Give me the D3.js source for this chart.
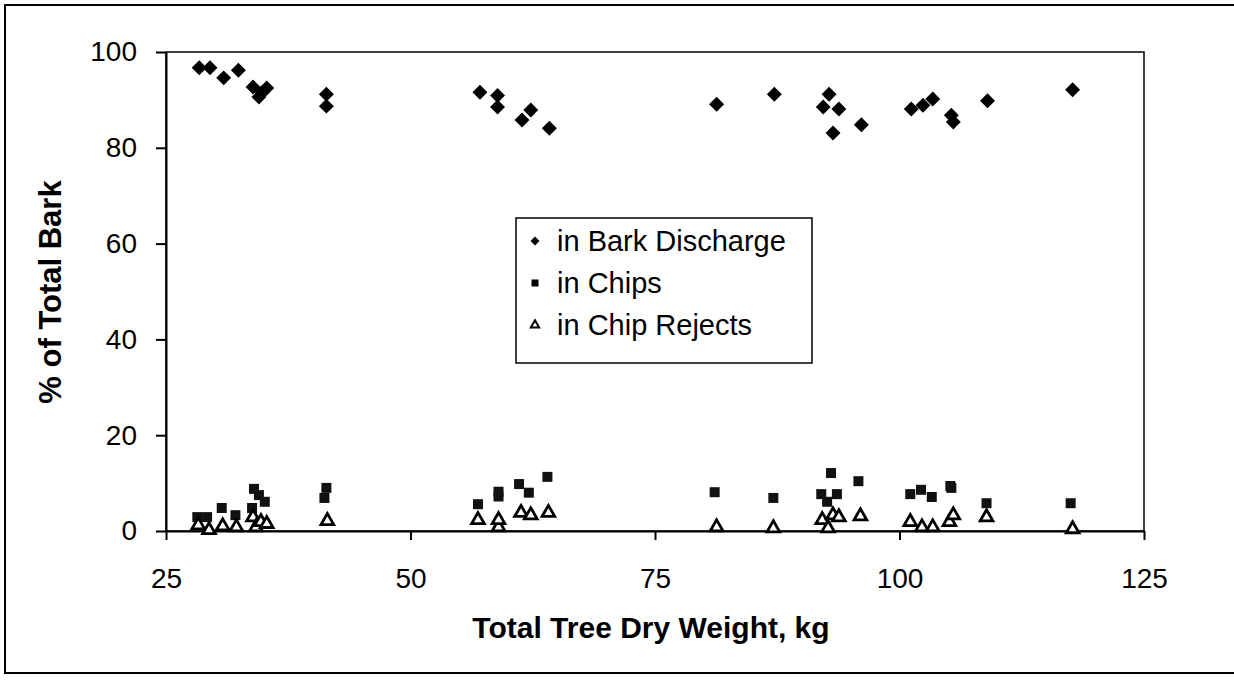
<!DOCTYPE html>
<html>
<head>
<meta charset="utf-8">
<title>Bark distribution</title>
<script src="https://d3js.org/d3.v7.min.js"></script>
<style>
html, body { margin: 0; background: #fff; overflow: hidden; }
svg { display: block; }
text { font-family: "Liberation Sans", Arial, sans-serif; fill: #000; }
.axis path, .axis line { stroke: #000; stroke-width: 2px; }
.axis text { font-size: 28px; }
</style>
</head>
<body>
<script>
// values
var xBark = [28.4, 29.5, 30.9, 32.4, 33.9, 34.5, 34.8, 35.3, 41.4, 41.4, 57.1, 58.9, 58.9, 61.4, 62.3, 64.2, 81.3, 87.2, 92.8, 92.2, 93.8, 93.2, 96.1, 101.2, 102.4, 103.4, 105.3, 105.5, 109.0, 117.7];
var yBark = [96.7, 96.7, 94.6, 96.2, 92.7, 90.6, 91.5, 92.5, 91.2, 88.7, 91.6, 90.9, 88.5, 85.8, 87.9, 84.1, 89.1, 91.2, 91.2, 88.5, 88.1, 83.1, 84.8, 88.1, 88.9, 90.2, 86.8, 85.4, 89.8, 92.1];
var xChips = [28.2, 29.2, 30.7, 32.1, 33.8, 34.0, 34.5, 35.1, 41.2, 41.4, 56.9, 59.0, 59.0, 61.1, 62.1, 64.0, 81.1, 87.1, 92.0, 92.6, 93.0, 93.6, 95.8, 101.1, 102.2, 103.3, 105.2, 105.3, 108.9, 117.5];
var yChips = [2.9, 2.9, 4.8, 3.3, 4.8, 8.8, 7.5, 6.1, 6.9, 9.0, 5.6, 7.2, 8.2, 9.8, 8.0, 11.3, 8.1, 6.9, 7.7, 6.1, 12.1, 7.7, 10.4, 7.7, 8.6, 7.1, 9.4, 9.0, 5.8, 5.8];
var xRejects = [28.3, 29.4, 30.8, 32.2, 33.9, 34.2, 34.7, 35.3, 41.5, 56.9, 59.0, 59.0, 61.3, 62.3, 64.1, 81.3, 87.1, 92.1, 92.7, 93.2, 93.8, 96.0, 101.1, 102.3, 103.4, 105.1, 105.5, 108.9, 117.7];
var yRejects = [1.2, 0.2, 1.0, 0.8, 2.9, 0.8, 1.9, 1.5, 2.1, 2.3, 0.8, 2.3, 3.8, 3.3, 3.8, 0.8, 0.6, 2.3, 0.6, 3.3, 2.9, 3.1, 1.9, 0.8, 0.8, 1.9, 3.3, 2.9, 0.4];
var xTicks = [25, 50, 75, 100, 125];
var yTicks = [0, 20, 40, 60, 80, 100];
var seriesNames = ["in Bark Discharge", "in Chips", "in Chip Rejects"];

var width = 1234, height = 684;
var svg = d3.select("body").append("svg")
    .attr("width", width)
    .attr("height", height);

// outer frame (right edge runs off the picture)
svg.append("rect")
    .attr("x", 5).attr("y", 5)
    .attr("width", 1250).attr("height", 668)
    .style("fill", "none").style("stroke", "#000").style("stroke-width", 2);

var x = d3.scaleLinear().domain([25, 125]).range([166, 1144]);
var y = d3.scaleLinear().domain([0, 100]).range([531, 52]);

// plot area box
svg.append("rect")
    .attr("x", x(25)).attr("y", y(100))
    .attr("width", x(125) - x(25)).attr("height", y(0) - y(100))
    .style("fill", "none").style("stroke", "#000").style("stroke-width", 1.5);

svg.append("g")
    .attr("class", "axis")
    .attr("transform", "translate(0," + y(0) + ")")
    .call(d3.axisBottom(x).tickValues(xTicks).tickSize(9).tickPadding(28).tickSizeOuter(0));

svg.append("g")
    .attr("class", "axis")
    .attr("transform", "translate(" + x(25) + ",0)")
    .call(d3.axisLeft(y).tickValues(yTicks).tickSize(10).tickPadding(19).tickSizeOuter(0));

svg.append("text")
    .attr("x", 651).attr("y", 638)
    .attr("text-anchor", "middle")
    .style("font-size", "30px").style("font-weight", "bold")
    .text("Total Tree Dry Weight, kg");

svg.append("text")
    .attr("transform", "translate(61,292) rotate(-90)")
    .attr("text-anchor", "middle")
    .style("font-size", "31px").style("font-weight", "bold")
    .text("% of Total Bark");

var diamond = d3.symbol().type(d3.symbolSquare).size(112);
var square = d3.symbol().type(d3.symbolSquare).size(100);
var tri = d3.symbol().type(d3.symbolTriangle).size(70);

var layer = svg.append("g");

layer.selectAll("path.bark")
    .data(d3.range(xBark.length))
  .enter().append("path")
    .attr("class", "bark")
    .attr("d", diamond)
    .attr("transform", function(i) { return "translate(" + x(xBark[i]) + "," + y(yBark[i]) + ") rotate(45)"; })
    .style("fill", "#000");

layer.selectAll("path.chips")
    .data(d3.range(xChips.length))
  .enter().append("path")
    .attr("class", "chips")
    .attr("d", square)
    .attr("transform", function(i) { return "translate(" + x(xChips[i]) + "," + y(yChips[i]) + ")"; })
    .style("fill", "#111");

layer.selectAll("path.rej")
    .data(d3.range(xRejects.length))
  .enter().append("path")
    .attr("class", "rej")
    .attr("d", tri)
    .attr("transform", function(i) { return "translate(" + x(xRejects[i]) + "," + y(yRejects[i]) + ")"; })
    .style("fill", "#fff").style("stroke", "#000").style("stroke-width", 2.8);

// legend
var legend = svg.append("g");
legend.append("rect")
    .attr("x", 516).attr("y", 218)
    .attr("width", 296).attr("height", 145)
    .style("fill", "#fff").style("stroke", "#000").style("stroke-width", 1.5);

var legendMarks = [
  d3.symbol().type(d3.symbolSquare).size(40),
  d3.symbol().type(d3.symbolSquare).size(49),
  d3.symbol().type(d3.symbolTriangle).size(30)
];
seriesNames.forEach(function(name, i) {
  var yy = 251 + i * 42;
  var m = legend.append("path")
      .attr("d", legendMarks[i])
      .attr("transform", "translate(535," + (yy - 10) + ")" + (i === 0 ? " rotate(45)" : ""));
  if (i === 2) m.style("fill", "#fff").style("stroke", "#000").style("stroke-width", 2);
  else m.style("fill", "#000");
  legend.append("text")
      .attr("x", 557).attr("y", yy)
      .style("font-size", "29px")
      .text(name);
});
</script>
</body>
</html>
